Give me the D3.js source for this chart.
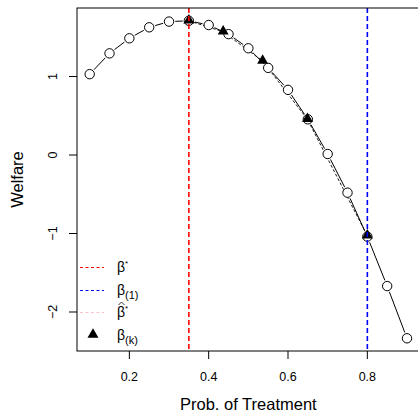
<!DOCTYPE html>
<html>
<head>
<meta charset="utf-8">
<script src="https://cdn.jsdelivr.net/npm/d3@7"></script>
<style>
  body { margin: 0; background: #fff; }
  text { font-family: "Liberation Sans", Arial, sans-serif; }
</style>
</head>
<body>
<svg id="chart" width="418" height="415"></svg>
<script>
// welfare curve, evaluated on a grid of treatment probabilities
var probs = [0.1, 0.15, 0.2, 0.25, 0.3, 0.35, 0.4, 0.45, 0.5, 0.55, 0.6, 0.65, 0.7, 0.75, 0.8, 0.85, 0.9];
var welfare = [1.03, 1.295, 1.487, 1.627, 1.70, 1.71, 1.656, 1.54, 1.36, 1.11, 0.83, 0.455, 0.013, -0.48, -1.04, -1.67, -2.335];
// iterates beta_(k)
var iterProbs = [0.35, 0.4365, 0.536, 0.649, 0.8];
var iterWelfare = [1.71, 1.57, 1.197, 0.455, -1.03];
var betaStar = 0.35, betaOne = 0.8;
var xTicks = [0.2, 0.4, 0.6, 0.8];
var yTicks = [-2, -1, 0, 1];

(function(){
var svg = d3.select('#chart');
var pLeft = 77, pRight = 419.7, pTop = 8, pBottom = 351;

var x = d3.scaleLinear().domain([0.068, 0.932]).range([pLeft, pRight]);
var y = d3.scaleLinear().domain([-2.497, 1.873]).range([pBottom, pTop]);

// solid line with gaps around circles (type = "b")
var r = 4.7;
var pts = probs.map(function(p, i){ return [x(p), y(welfare[i])]; });
for (var i = 0; i < pts.length - 1; i++) {
  var a = pts[i], b = pts[i+1],
      dx = b[0] - a[0], dy = b[1] - a[1],
      len = Math.sqrt(dx*dx + dy*dy), gap = r + 1.5;
  if (len <= 2*gap) continue;
  svg.append('line')
    .attr('x1', a[0] + dx/len*gap).attr('y1', a[1] + dy/len*gap)
    .attr('x2', b[0] - dx/len*gap).attr('y2', b[1] - dy/len*gap)
    .attr('stroke', '#000').attr('stroke-width', 1);
}

// dashed path through the iterates
svg.append('path')
  .attr('d', d3.line()(iterProbs.map(function(p, i){ return [x(p), y(iterWelfare[i])]; })))
  .attr('fill', 'none').attr('stroke', '#000').attr('stroke-width', 0.9)
  .attr('stroke-dasharray', '3,2');

svg.selectAll('circle.pt').data(pts).enter().append('circle')
  .attr('class', 'pt')
  .attr('cx', function(d){ return d[0]; }).attr('cy', function(d){ return d[1]; })
  .attr('r', r).attr('fill', '#fff').attr('stroke', '#000').attr('stroke-width', 1);

var tri = d3.symbol().type(d3.symbolTriangle).size(52);
svg.selectAll('path.tri').data(iterProbs).enter().append('path')
  .attr('class', 'tri')
  .attr('d', tri)
  .attr('transform', function(d, i){ return 'translate(' + x(d) + ',' + (y(iterWelfare[i]) - 0.5) + ')'; })
  .attr('fill', '#000');

// vertical reference lines
svg.append('line')
  .attr('x1', x(betaStar)).attr('x2', x(betaStar)).attr('y1', pTop).attr('y2', pBottom)
  .attr('stroke', '#ff0000').attr('stroke-width', 1.6).attr('stroke-dasharray', '5,3');
svg.append('line')
  .attr('x1', x(betaOne)).attr('x2', x(betaOne)).attr('y1', pTop).attr('y2', pBottom)
  .attr('stroke', '#0000ff').attr('stroke-width', 1.6).attr('stroke-dasharray', '5,3');

// box
svg.append('rect')
  .attr('x', pLeft).attr('y', pTop).attr('width', pRight - pLeft).attr('height', pBottom - pTop)
  .attr('fill', 'none').attr('stroke', '#000').attr('stroke-width', 1);

// axes
var xAxis = svg.append('g').attr('transform', 'translate(0,' + pBottom + ')');
xTicks.forEach(function(t){
  xAxis.append('line').attr('x1', x(t)).attr('x2', x(t)).attr('y1', 0).attr('y2', 8)
    .attr('stroke', '#000');
  xAxis.append('text').attr('x', x(t)).attr('y', 30).attr('text-anchor', 'middle')
    .attr('font-size', 12.5).text(t.toFixed(1));
});
var yAxis = svg.append('g').attr('transform', 'translate(' + pLeft + ',0)');
yTicks.forEach(function(t){
  yAxis.append('line').attr('x1', -8).attr('x2', 0).attr('y1', y(t)).attr('y2', y(t))
    .attr('stroke', '#000');
  yAxis.append('text')
    .attr('transform', 'translate(-20,' + y(t) + ')rotate(-90)')
    .attr('text-anchor', 'middle').attr('font-size', 12.5)
    .text(t < 0 ? '\u2212' + Math.abs(t) : String(t));
});

svg.append('text').attr('x', (pLeft + pRight) / 2).attr('y', 410)
  .attr('text-anchor', 'middle').attr('font-size', 16.5).text('Prob. of Treatment');
svg.append('text').attr('transform', 'translate(23,' + ((pTop + pBottom) / 2) + ')rotate(-90)')
  .attr('text-anchor', 'middle').attr('font-size', 16.5).text('Welfare');

// legend
var legend = svg.append('g');
var legItems = [
  {color: '#ff0000', hat: false, sup: '*', sub: null, y: 267},
  {color: '#0000ff', hat: false, sup: null, sub: '(1)', y: 289.5},
  {color: '#ffc0cb', hat: true, sup: '*', sub: null, y: 312},
  {color: null, hat: false, sup: null, sub: '(k)', y: 334.5}
];
legItems.forEach(function(d){
  var ly = Math.round(d.y) + 0.5;
  if (d.color) {
    legend.append('line').attr('x1', 80).attr('x2', 104).attr('y1', ly).attr('y2', ly)
      .attr('stroke', d.color).attr('stroke-width', 1).attr('stroke-dasharray', '3,2.5');
  } else {
    legend.append('path').attr('d', tri).attr('transform', 'translate(93,' + d.y + ')')
      .attr('fill', '#000');
  }
  var t = legend.append('text').attr('x', 117).attr('y', d.y + 5).attr('font-size', 14);
  t.append('tspan').text('\u03b2');
  if (d.sup) t.append('tspan').attr('dy', -6).attr('font-size', 8).text(d.sup);
  if (d.sub) t.append('tspan').attr('dy', 4).attr('font-size', 11).text(d.sub);
  if (d.hat) {
    legend.append('path')
      .attr('d', 'M' + 118.5 + ',' + (d.y - 7) + 'L' + 121.5 + ',' + (d.y - 10) + 'L' + 124.5 + ',' + (d.y - 7))
      .attr('fill', 'none').attr('stroke', '#000').attr('stroke-width', 0.8);
  }
});
})();
</script>
</body>
</html>
